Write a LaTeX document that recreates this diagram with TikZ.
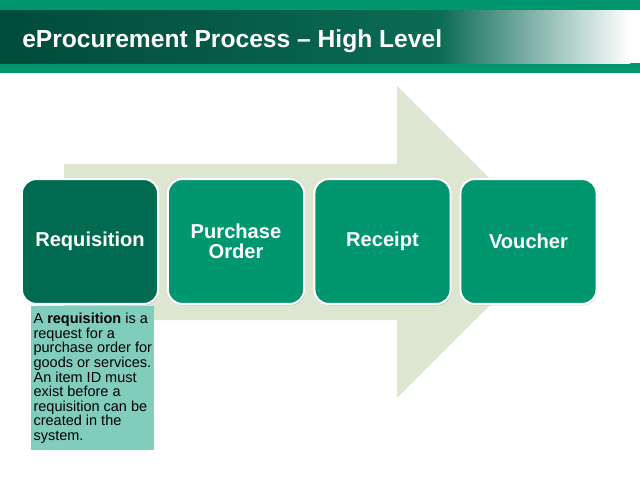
\documentclass[tikz,border=0pt]{standalone}
\usepackage{fontspec}
\setmainfont{Liberation Sans}
\usetikzlibrary{shadows}
\definecolor{hdrdark}{HTML}{004B3A}
\definecolor{hdrmid}{HTML}{0B6B55}
\definecolor{strip}{HTML}{009670}
\definecolor{stagedark}{HTML}{006B50}
\definecolor{stagelight}{HTML}{009670}
\definecolor{arrowbg}{HTML}{DDE6D0}
\definecolor{notefill}{HTML}{80CDBB}
\tikzset{stage/.style={draw=white,line width=1.4pt,rounded corners=10pt,minimum width=3.4cm,minimum height=3.12cm,align=center,text=white,font=\fontsize{14.3}{14.5}\selectfont\bfseries,drop shadow={opacity=.35,shadow xshift=.6pt,shadow yshift=-1pt}},
infobox/.style={fill=notefill,anchor=north west,minimum width=3.075cm,minimum height=3.6cm,inner sep=1.5pt,align=left,font=\fontsize{10.3}{10.4}\selectfont}}

\begin{document}
\begin{tikzpicture}[x=.025cm,y=-.025cm]
\useasboundingbox (0,0) rectangle (640,480);
% header
\fill[strip] (0,0) rectangle (640,73);
\shade[left color=hdrdark,right color=hdrmid] (0,10) rectangle (440,63);
\shade[left color=hdrmid,right color=white] (440,10) rectangle (630,63);
\fill[white] (630,10) rectangle (640,63);
\node[anchor=west,text=white,font=\fontsize{17.5}{20}\selectfont\bfseries,inner sep=0pt] (title) at (22,41) {eProcurement Process -- High Level};
% big arrow behind the stages
\fill[arrowbg] (64,164)--(397,164)--(397,86)--(553,242)--(397,398)--(397,320)--(64,320)--cycle;
% note under the first stage
\node[infobox] (desc) at (31,306) {A \textbf{requisition} is a\\request for a\\purchase order for\\goods or services.\\An item ID must\\exist before a\\requisition can be\\created in the\\system.};
\foreach \x/\c/\n/\t in {90/stagedark/req/Requisition,236/stagelight/po/{Purchase\\Order},382.5/stagelight/rec/Receipt,528.5/stagelight/vou/Voucher}{\node[stage,fill=\c] (\n) at (\x,241.5) {\t};}
\end{tikzpicture}
\end{document}
